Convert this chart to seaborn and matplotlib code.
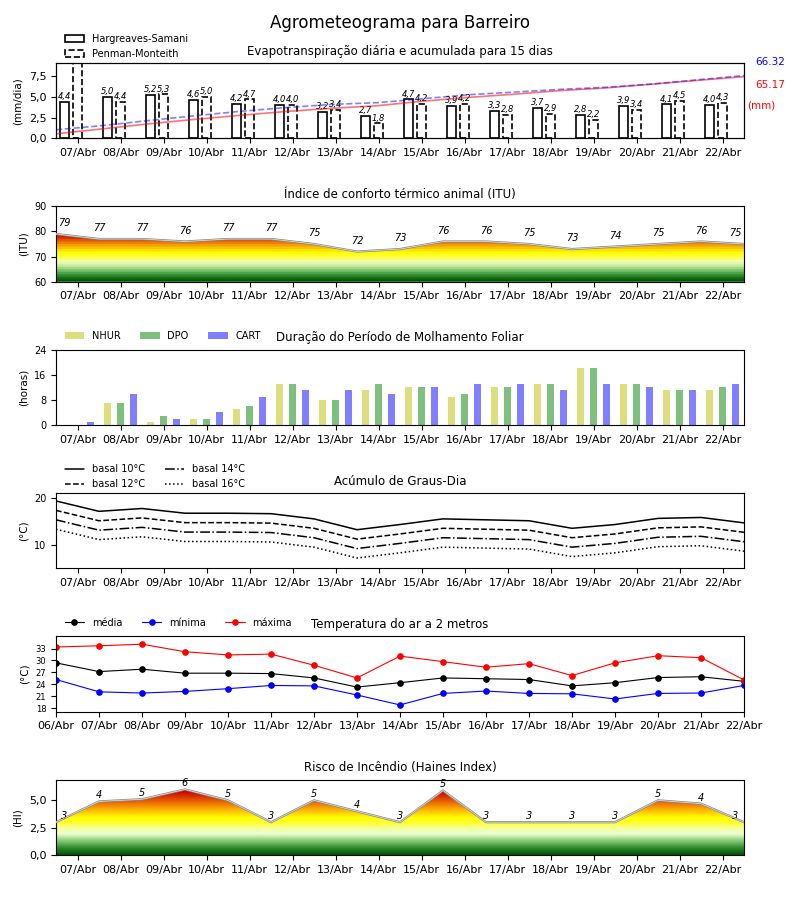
import numpy as np
import matplotlib
matplotlib.use("Agg")
import matplotlib.pyplot as plt
import seaborn as sns
from matplotlib.colors import LinearSegmentedColormap, ListedColormap
from matplotlib.ticker import FuncFormatter

# --------------------------
# Dados
# --------------------------
dias = ['07/Abr', '08/Abr', '09/Abr', '10/Abr', '11/Abr', '12/Abr', '13/Abr', '14/Abr',
        '15/Abr', '16/Abr', '17/Abr', '18/Abr', '19/Abr', '20/Abr', '21/Abr', '22/Abr']
dias_temp = ['06/Abr'] + dias

# evapotranspiracao (mm/dia) e acumulado (mm)
et_hs = [4.4, 5.0, 5.2, 4.6, 4.2, 4.0, 3.2, 2.7, 4.7, 3.9, 3.3, 3.7, 2.8, 3.9, 4.1, 4.0]
et_pm = [9.1, 4.4, 5.3, 5.0, 4.7, 4.0, 3.4, 1.8, 4.2, 4.2, 2.8, 2.9, 2.2, 3.4, 4.5, 4.3]
acum_hs = [4.9, 10.0, 15.3, 20.0, 24.3, 28.4, 31.7, 34.5, 39.3, 43.3, 46.7, 50.5, 53.3, 57.3, 61.3, 65.17]
acum_pm = [9.1, 13.5, 18.8, 23.8, 28.5, 32.5, 35.9, 37.7, 41.9, 46.1, 48.9, 51.8, 54.0, 57.4, 61.9, 66.32]

# indice de conforto termico (ITU)
itu = [79, 77, 77, 76, 77, 77, 75, 72, 73, 76, 76, 75, 73, 74, 75, 76, 75]

# molhamento foliar (horas)
nhur = [0, 7, 1, 2, 5, 13, 8, 11, 12, 9, 12, 13, 18, 13, 11, 11]
dpo = [0, 7, 3, 2, 6, 13, 8, 13, 12, 10, 12, 13, 18, 13, 11, 12]
cart = [1, 10, 2, 4, 9, 11, 11, 10, 12, 13, 13, 11, 13, 12, 11, 13]

# graus-dia
gd10 = [19.4, 17.2, 17.8, 16.8, 16.8, 16.7, 15.6, 13.3, 14.4, 15.6, 15.4, 15.2, 13.6, 14.4, 15.7, 15.9, 14.75]
gd12 = [17.4, 15.2, 15.8, 14.8, 14.8, 14.7, 13.6, 11.3, 12.4, 13.6, 13.4, 13.2, 11.6, 12.4, 13.7, 13.9, 12.75]
gd14 = [15.4, 13.2, 13.8, 12.8, 12.8, 12.7, 11.6, 9.3, 10.4, 11.6, 11.4, 11.2, 9.6, 10.4, 11.7, 11.9, 10.75]
gd16 = [13.4, 11.2, 11.8, 10.8, 10.8, 10.7, 9.6, 7.3, 8.4, 9.6, 9.4, 9.2, 7.6, 8.4, 9.7, 9.9, 8.75]

# temperatura do ar (C)
t_med = [29.4, 27.2, 27.8, 26.8, 26.8, 26.7, 25.6, 23.3, 24.4, 25.6, 25.4, 25.2, 23.6, 24.4, 25.7, 25.9, 24.75]
t_min = [25.2, 22.1, 21.8, 22.2, 22.9, 23.7, 23.6, 21.3, 18.8, 21.7, 22.3, 21.7, 21.6, 20.3, 21.7, 21.8, 23.7]
t_max = [33.4, 33.7, 34.1, 32.2, 31.4, 31.6, 28.8, 25.6, 31.1, 29.7, 28.3, 29.2, 26.2, 29.4, 31.2, 30.7, 25.1]

# indice de Haines
haines = [3.0, 4.9, 5.1, 6.0, 5.0, 3.0, 5.0, 4.0, 3.0, 5.9, 3.0, 3.0, 3.0, 3.0, 5.0, 4.7, 3.0]

# --------------------------
# Estilo
# --------------------------
sns.set_style("ticks", {
    "axes.edgecolor": "black", "text.color": "black", "axes.labelcolor": "black",
    "xtick.color": "black", "ytick.color": "black",
    "xtick.major.size": 3.5, "ytick.major.size": 3.5,
})
plt.rcParams['font.family'] = ['DejaVu Sans']

n = len(dias)
dia_pos = np.arange(n)            # inicio de cada dia
tick_pos = dia_pos + 0.5
x17 = np.arange(n + 1)
virgula = FuncFormatter(lambda v, p: f"{v:.1f}".replace('.', ','))
TIT = 8.5
LEG = 7


def gradiente(stops, vmin, vmax, bands=None):
    cm = LinearSegmentedColormap.from_list(
        'g', [((v - vmin) / (vmax - vmin), c) for v, c in stops])
    if bands:
        cm = ListedColormap(cm(np.linspace(0, 1, bands)))
    return cm


def area_gradiente(ax, x, y, cmap, ymin, ymax):
    poly = ax.fill_between(x, ymin, y, facecolor='none', edgecolor='none')
    grad = np.linspace(ymin, ymax, 300).reshape(-1, 1)
    img = ax.imshow(grad, cmap=cmap, aspect='auto', origin='lower',
                    extent=(x[0], x[-1], ymin, ymax), vmin=ymin, vmax=ymax, zorder=1)
    img.set_clip_path(poly.get_paths()[0], transform=ax.transData)
    sns.lineplot(x=x, y=y, ax=ax, color='#8a8a8a', lw=1.6, zorder=3)
    sns.lineplot(x=x, y=y, ax=ax, color='#e6e6e6', lw=0.5, zorder=4)


def eixo_dias(ax, pos, labels):
    ax.set_xlim(0, n)
    ax.set_xticks(pos)
    ax.set_xticklabels(labels, fontsize=8)
    ax.set_xlabel('')


fig, axs = plt.subplots(6, 1, figsize=(8, 9), dpi=100)
fig.subplots_adjust(left=0.07, right=0.93, top=0.93, bottom=0.05, hspace=0.9)
fig.suptitle("Agrometeograma para Barreiro", fontsize=12, y=0.985)

# --------------------------
# 1 - Evapotranspiracao
# --------------------------
ax = axs[0]
sns.barplot(x=dia_pos + 0.2, y=et_hs, native_scale=True, orient='x', width=0.2,
            errorbar=None, saturation=1, color='white', edgecolor='black',
            linewidth=1.2, label='Hargreaves-Samani', ax=ax)
sns.barplot(x=dia_pos + 0.5, y=et_pm, native_scale=True, orient='x', width=0.2,
            errorbar=None, saturation=1, color='white', edgecolor='black',
            linewidth=1.2, linestyle='--', label='Penman-Monteith', ax=ax)
ymax1 = 9.07
for i in range(n):
    ax.text(dia_pos[i] + 0.2, et_hs[i] + 0.1, f"{et_hs[i]:.1f}".replace('.', ','),
            ha='center', va='bottom', fontsize=6, style='italic', clip_on=True)
    ax.text(dia_pos[i] + 0.5, et_pm[i] + 0.1, f"{et_pm[i]:.1f}".replace('.', ','),
            ha='center', va='bottom', fontsize=6, style='italic', clip_on=True)
ax.set_ylim(0, ymax1)
ax.set_yticks([0, 2.5, 5, 7.5])
ax.yaxis.set_major_formatter(virgula)
ax.tick_params(axis='y', labelsize=8)
ax.set_ylabel('(mm/dia)', fontsize=7.5)
eixo_dias(ax, tick_pos, dias)
ax.set_title("Evapotranspiração diária e acumulada para 15 dias", fontsize=TIT)
ax.legend(loc='lower left', bbox_to_anchor=(0, 0.936), frameon=False, fontsize=LEG)

ax2 = ax.twinx()
xa = np.linspace(0, n, len(acum_hs))
sns.lineplot(x=xa, y=acum_hs, ax=ax2, color='red', alpha=0.55, lw=1.2)
sns.lineplot(x=xa, y=acum_pm, ax=ax2, color='blue', alpha=0.5, lw=1.2, linestyle='--')
ax2.set_ylim(0, 1.2 * max(acum_pm))
ax2.set_yticks([])
ax2.set_ylabel('')
ax2.set_xlim(0, n)
ax.text(1.016, 1.013, f"{acum_pm[-1]:.2f}", color='blue', fontsize=7.5,
        transform=ax.transAxes, va='center', ha='left')
ax.text(1.016, 0.707, f"{acum_hs[-1]:.2f}", color='red', fontsize=7.5,
        transform=ax.transAxes, va='center', ha='left')
ax.text(1.004, 0.44, "(mm)", color='red', fontsize=7.5,
        transform=ax.transAxes, va='center', ha='left')

# --------------------------
# 2 - ITU
# --------------------------
ax = axs[1]
cmap_itu = gradiente([(60, '#005500'), (62, '#2a882a'), (64.5, '#80c870'), (66.5, '#d8f4b0'),
                      (68, '#f2ffb0'), (69.5, '#ffff40'), (71.5, '#ffff00'), (73, '#ffd000'),
                      (74.5, '#f5a000'), (76, '#e87000'), (77.5, '#d83000'), (79, '#cc0000'),
                      (90, '#cc0000')], 60, 90, bands=30)
area_gradiente(ax, x17, itu, cmap_itu, 60, 90)
for i, v in enumerate(itu):
    ax.text(np.clip(x17[i], 0.2, n - 0.2), v + 4.3, f"{v}", ha='center', va='center',
            fontsize=7, style='italic')
ax.set_ylim(60, 90)
ax.set_yticks([60, 70, 80, 90])
ax.tick_params(axis='y', labelsize=7)
ax.set_ylabel('(ITU)', fontsize=7.5)
eixo_dias(ax, tick_pos, dias)
ax.set_title("Índice de conforto térmico animal (ITU)", fontsize=TIT)

# --------------------------
# 3 - Molhamento foliar
# --------------------------
ax = axs[2]
for vals, off, cor, nome in [(nhur, 0.2, 'y', 'NHUR'), (dpo, 0.5, 'g', 'DPO'), (cart, 0.8, 'b', 'CART')]:
    sns.barplot(x=dia_pos + off, y=vals, native_scale=True, orient='x', width=0.16,
                errorbar=None, saturation=1, color=cor, alpha=0.5, linewidth=0,
                label=nome, ax=ax)
ax.set_ylim(0, 24)
ax.set_yticks([0, 8, 16, 24])
ax.tick_params(axis='y', labelsize=7)
ax.set_ylabel('(horas)', fontsize=7.5)
eixo_dias(ax, tick_pos, dias)
ax.set_title("Duração do Período de Molhamento Foliar", fontsize=TIT)
ax.legend(loc='lower left', bbox_to_anchor=(0, 1.0), frameon=False, fontsize=LEG, ncol=3)

# --------------------------
# 4 - Graus-dia
# --------------------------
ax = axs[3]
for vals, ls, nome in [(gd10, '-', 'basal 10°C'), (gd12, '--', 'basal 12°C'),
                       (gd14, '-.', 'basal 14°C'), (gd16, ':', 'basal 16°C')]:
    sns.lineplot(x=x17, y=vals, ax=ax, color='black', lw=1.1, linestyle=ls, label=nome)
ax.set_ylim(5.1, 21.1)
ax.set_yticks([10, 20])
ax.tick_params(axis='y', labelsize=7)
ax.set_ylabel('(°C)', fontsize=7.5)
eixo_dias(ax, tick_pos, dias)
ax.set_title("Acúmulo de Graus-Dia", fontsize=TIT)
ax.legend(loc='lower left', bbox_to_anchor=(0, 0.936), frameon=False, fontsize=LEG, ncol=2)

# --------------------------
# 5 - Temperatura
# --------------------------
ax = axs[4]
for vals, cor, nome in [(t_med, 'black', 'média'), (t_min, 'blue', 'mínima'), (t_max, 'red', 'máxima')]:
    sns.lineplot(x=x17, y=vals, ax=ax, color=cor, lw=0.8, marker='o', markersize=4,
                 markeredgecolor=cor, label=nome)
ax.set_ylim(17.1, 36.1)
ax.set_yticks([18, 21, 24, 27, 30, 33])
ax.tick_params(axis='y', labelsize=6)
ax.set_ylabel('(°C)', fontsize=7.5)
eixo_dias(ax, x17, dias_temp)
ax.set_title("Temperatura do ar a 2 metros", fontsize=TIT)
ax.legend(loc='lower left', bbox_to_anchor=(0, 1.0), frameon=False, fontsize=LEG, ncol=3)

# --------------------------
# 6 - Haines
# --------------------------
ax = axs[5]
cmap_hi = gradiente([(0, '#005500'), (0.6, '#2a882a'), (1.3, '#88cc77'), (1.9, '#eaffd0'),
                     (2.4, '#f5ffa0'), (2.9, '#ffff30'), (3.4, '#ffff00'), (4.0, '#ffc000'),
                     (4.6, '#f08000'), (5.2, '#dd4000'), (5.8, '#cc0000'), (6.9, '#cc0000')], 0, 6.9)
area_gradiente(ax, x17, haines, cmap_hi, 0, 6.9)
for i, v in enumerate(haines):
    ax.text(np.clip(x17[i], 0.2, n - 0.2), v + 0.55, f"{int(v)}", ha='center', va='center',
            fontsize=7, style='italic')
ax.set_ylim(0, 6.9)
ax.set_yticks([0, 2.5, 5])
ax.yaxis.set_major_formatter(virgula)
ax.tick_params(axis='y', labelsize=8)
ax.set_ylabel('(HI)', fontsize=7.5)
eixo_dias(ax, tick_pos, dias)
ax.set_title("Risco de Incêndio (Haines Index)", fontsize=TIT)

plt.savefig("out.png", dpi=100)
